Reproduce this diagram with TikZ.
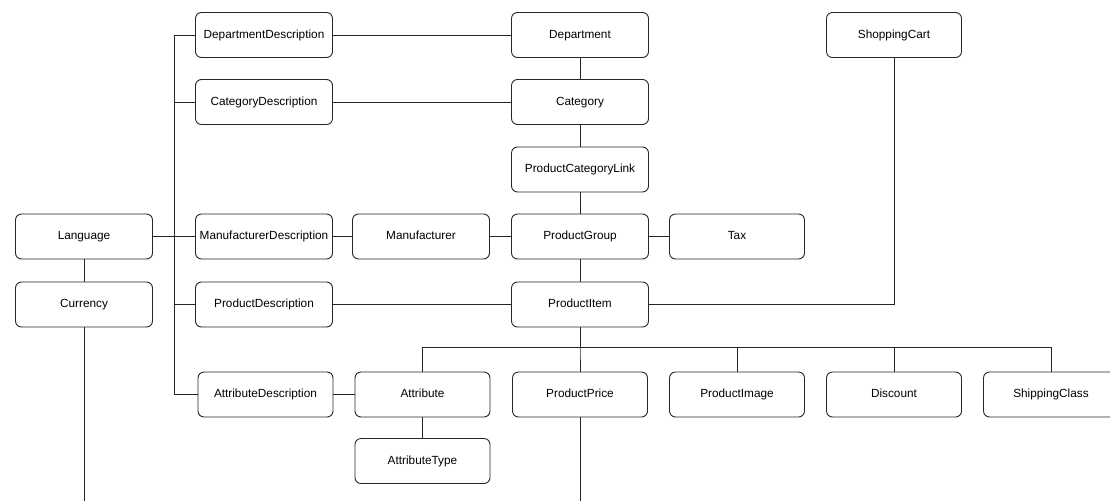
\documentclass[tikz,border=0pt]{standalone}
\usepackage{fontspec}
\setmainfont{Liberation Sans}
\begin{document}
\begin{tikzpicture}[x=1pt,y=-1pt,
  entity/.style={draw=black!85,line width=0.9pt,rounded corners=6pt,minimum width=137pt,minimum height=45pt,inner sep=0pt,text height=8.6pt,text depth=2.6pt,font=\fontsize{11.8}{13}\selectfont,fill=white},
  link/.style={draw=black!85,line width=0.9pt}]
\useasboundingbox (0,0) rectangle (1110,501);
% nodes
\node[entity] (lang) at (84,236.5) {Language};
\node[entity] (cur) at (84,304.5) {Currency};
\node[entity] (dd) at (264,35) {DepartmentDescription};
\node[entity] (cd) at (264,102) {CategoryDescription};
\node[entity] (md) at (264,236.5) {ManufacturerDescription};
\node[entity] (pd) at (264,304.5) {ProductDescription};
\node[entity,minimum width=135pt] (ad) at (265.5,394.5) {AttributeDescription};
\node[entity] (man) at (421,236.5) {Manufacturer};
\node[entity,minimum width=135pt] (att) at (422.5,394.5) {Attribute};
\node[entity,minimum width=135pt] (atype) at (422.5,461) {AttributeType};
\node[entity] (dep) at (580,35) {Department};
\node[entity] (cat) at (580,102) {Category};
\node[entity] (pcl) at (580,169.5) {ProductCategoryLink};
\node[entity] (pg) at (580,236.5) {ProductGroup};
\node[entity] (pi) at (580,304.5) {ProductItem};
\node[entity,minimum width=135pt] (pp) at (580,394.5) {ProductPrice};
\node[entity,minimum width=135pt] (tax) at (737,236.5) {Tax};
\node[entity,minimum width=135pt] (sc) at (894,35) {ShoppingCart};
\node[entity,minimum width=135pt] (pimg) at (737,394.5) {ProductImage};
\node[entity,minimum width=135pt] (disc) at (894,394.5) {Discount};
\node[entity,minimum width=135pt] (ship) at (1051,394.5) {ShippingClass};
\coordinate (curend) at (84,501);
\coordinate (ppend) at (580,501);
% connectors
\foreach \d in {dd,cd,md,pd,ad}
  \draw[link] (lang.east) -- ++(21,0) |- (\d.west);
\draw[link,line width=1.4pt] (lang.east) -- ++(21,0);
\draw[link] (lang) -- (cur);
\draw[link] (cur) -- (curend);
\draw[link] (dd) -- (dep);
\draw[link] (cd) -- (cat);
\draw[link] (dep) -- (cat);
\draw[link] (cat) -- (pcl);
\draw[link] (pcl) -- (pg);
\draw[link] (md) -- (man);
\draw[link] (man) -- (pg);
\draw[link] (pg) -- (tax);
\draw[link] (pg) -- (pi);
\draw[link] (pd) -- (pi);
\draw[link] (pi.east) -| (sc.south);
\foreach \c in {att,pp,pimg,disc,ship}
  \draw[link] (pi.south) -- ++(0,20) -| (\c.north);
\draw[link] (ad) -- (att);
\draw[link] (att) -- (atype);
\draw[link] (pp) -- (ppend);
\end{tikzpicture}
\end{document}
